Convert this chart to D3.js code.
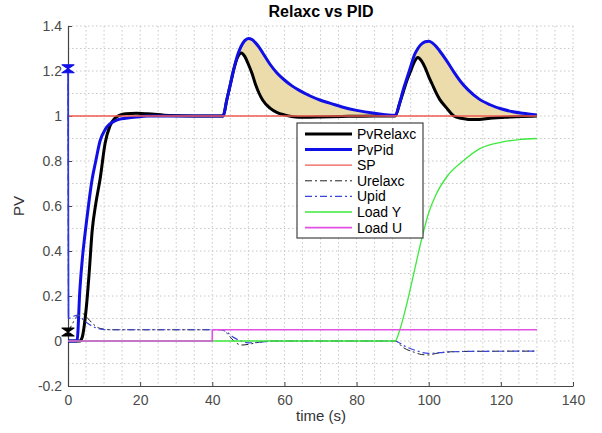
<!DOCTYPE html>
<html>
<head>
<meta charset="utf-8">
<script src="https://cdn.jsdelivr.net/npm/d3@7"></script>
<style>
  body { margin: 0; background: #fff; }
  text { font-family: "Liberation Sans", Arial, sans-serif; }
</style>
</head>
<body>
<div class="canvas"></div>
<script>
// process variable responses (shared time base so the gap can be shaded)
const pvTime   = [0, 2.5, 3.3, 4, 4.6, 5.2, 5.9, 6.7, 7.7, 8.9, 10.3, 11.6, 13, 14.4, 16, 19, 22, 28, 35, 43, 44, 45, 46, 47, 48, 49, 50, 51, 52, 53, 54, 56, 58, 60, 62, 64, 67, 70, 73, 76, 80, 85, 90.7, 92, 93, 94, 95, 96, 97, 98, 99, 100, 101, 102, 103, 105, 107, 109, 111, 114, 117, 120, 123, 126, 130];
const pvPid    = [0, 0, 0.23, 0.37, 0.46, 0.54, 0.63, 0.72, 0.80, 0.89, 0.94, 0.965, 0.978, 0.986, 0.99, 0.996, 1.0, 1.0, 1.0, 1.0, 1.07, 1.14, 1.21, 1.27, 1.31, 1.335, 1.345, 1.34, 1.325, 1.305, 1.28, 1.23, 1.19, 1.16, 1.135, 1.115, 1.09, 1.07, 1.055, 1.04, 1.025, 1.012, 1.003, 1.06, 1.12, 1.17, 1.22, 1.27, 1.30, 1.32, 1.33, 1.332, 1.325, 1.31, 1.29, 1.245, 1.195, 1.15, 1.115, 1.075, 1.05, 1.032, 1.02, 1.012, 1.005];
const pvRelaxc = [0, 0, 0, 0.02, 0.08, 0.17, 0.31, 0.49, 0.61, 0.72, 0.88, 0.955, 0.99, 1.004, 1.01, 1.012, 1.01, 1.002, 1.0, 1.0, 1.07, 1.14, 1.21, 1.26, 1.28, 1.265, 1.23, 1.19, 1.14, 1.10, 1.07, 1.035, 1.015, 1.005, 0.998, 0.995, 0.995, 0.996, 0.997, 0.998, 0.999, 1.0, 1.0, 1.06, 1.11, 1.16, 1.20, 1.24, 1.26, 1.245, 1.215, 1.175, 1.14, 1.105, 1.075, 1.035, 1.0, 0.99, 0.985, 0.985, 0.99, 0.993, 0.996, 0.998, 1.0];

// set point
const spTime = [0, 130];
const sp     = [1, 1];

// controller outputs
const uRelaxcTime = [0, 1, 2.4, 3.8, 5.5, 7, 8.9, 12, 42.5, 44, 46, 48, 50, 53, 57, 90.7, 93, 96, 98, 100, 102, 106, 112, 130];
const uRelaxc     = [0.04, 0.07, 0.108, 0.123, 0.10, 0.075, 0.056, 0.05, 0.05, 0.035, 0.0, -0.018, -0.015, -0.005, 0.0, 0.0, -0.03, -0.05, -0.06, -0.062, -0.055, -0.048, -0.046, -0.045];
const uPidTime    = [0, 0.15, 1.5, 2.9, 4.5, 7, 10.7, 42.5, 44, 46, 48, 50, 53, 57, 90.7, 93, 96, 100, 103, 108, 130];
const uPid        = [1.21, 0.10, 0.11, 0.115, 0.09, 0.064, 0.05, 0.05, 0.04, 0.015, 0.0, -0.008, -0.006, 0.0, 0.0, -0.02, -0.04, -0.055, -0.052, -0.047, -0.045];

// disturbances
const loadYTime = [0, 90.7, 92, 94, 96, 98, 100, 102, 105, 109.5, 114.2, 120.6, 125, 130];
const loadY     = [0, 0, 0.05, 0.17, 0.31, 0.45, 0.57, 0.65, 0.73, 0.80, 0.855, 0.885, 0.895, 0.90];
const loadUTime = [0, 40, 40, 130];
const loadU     = [0, 0, 0.05, 0.05];

// axes ticks
const xTicks = [0, 20, 40, 60, 80, 100, 120, 140];
const yTicks = [-0.2, 0, 0.2, 0.4, 0.6, 0.8, 1, 1.2, 1.4];
const yTickLabels = ['-0.2', '0', '0.2', '0.4', '0.6', '0.8', '1', '1.2', '1.4'];

const legendNames = ['PvRelaxc', 'PvPid', 'SP', 'Urelaxc', 'Upid', 'Load Y', 'Load U'];

var margin = {top: 26, right: 29, bottom: 47, left: 68},
  width = 602 - margin.left - margin.right,
  height = 433 - margin.top - margin.bottom;

var svg = d3.select('.canvas')
  .append('svg')
  .attr('width', 602)
  .attr('height', 433);

const graph = svg.append('g')
  .attr('transform', `translate(${margin.left},${margin.top})`);

const x = d3.scaleLinear().domain([0, 140]).range([0, width]);
const y = d3.scaleLinear().domain([-0.2, 1.4]).range([height, 0]);

// dotted grid, every 5 s and every 0.1
const grid = graph.append('g')
  .attr('stroke', '#c8c8c8')
  .attr('stroke-width', 1)
  .attr('stroke-dasharray', '1.5,2.5');

grid.selectAll('.gx')
  .data(d3.range(5, 141, 5))
  .enter().append('line')
    .attr('x1', d => x(d)).attr('x2', d => x(d))
    .attr('y1', 0).attr('y2', height);

grid.selectAll('.gy')
  .data(d3.range(-1, 15).map(d => d / 10))
  .enter().append('line')
    .attr('x1', 0).attr('x2', width)
    .attr('y1', d => y(d)).attr('y2', d => y(d));

// axes (drawn under the curves)
const xAxis = d3.axisBottom(x)
  .tickValues(xTicks)
  .tickSizeInner(-4)
  .tickSizeOuter(0)
  .tickPadding(9);

const yAxis = d3.axisLeft(y)
  .tickValues(yTicks)
  .tickFormat((d, i) => yTickLabels[i])
  .tickSizeInner(-4)
  .tickSizeOuter(0)
  .tickPadding(6);

const xAxisGroup = graph.append('g')
  .attr('transform', `translate(0,${height})`)
  .call(xAxis);

const yAxisGroup = graph.append('g')
  .call(yAxis);

[xAxisGroup, yAxisGroup].forEach(g => {
  g.select('.domain').attr('stroke', '#444').attr('stroke-width', 1.2);
  g.selectAll('line').attr('stroke', '#444');
  g.selectAll('text')
    .attr('fill', '#4a4a4a')
    .style('font-size', '14px');
});

const zip = (ts, vs) => ts.map((t, i) => ({t: t, v: vs[i]}));

const smooth = d3.line()
  .x(d => x(d.t))
  .y(d => y(d.v))
  .curve(d3.curveMonotoneX);

const straight = d3.line()
  .x(d => x(d.t))
  .y(d => y(d.v));

// shaded gap between PID and Relaxc after the load steps
const pvRows = pvTime.map((t, i) => ({t: t, a: pvRelaxc[i], b: pvPid[i]}));
const gap = d3.area()
  .defined(d => d.t >= 43)
  .x(d => x(d.t))
  .y0(d => y(d.a))
  .y1(d => y(d.b))
  .curve(d3.curveMonotoneX);

graph.append('path')
  .attr('d', gap(pvRows))
  .attr('fill', '#ecdcab');

// series styles, in the legend order
const styles = [
  {color: '#000000', w: 3, dash: null},
  {color: '#1010e6', w: 3, dash: null},
  {color: '#ee5a52', w: 1.3, dash: null},
  {color: '#222222', w: 1, dash: '7,3,2,3'},
  {color: '#3a46d8', w: 1.2, dash: '7,3,2,3'},
  {color: '#3ee83e', w: 1.3, dash: null},
  {color: '#e44fe4', w: 1.6, dash: null}
];

const series = [
  {pts: zip(pvTime, pvRelaxc), gen: smooth},
  {pts: zip(pvTime, pvPid), gen: smooth},
  {pts: zip(spTime, sp), gen: straight},
  {pts: zip(uRelaxcTime, uRelaxc), gen: smooth},
  {pts: zip(uPidTime, uPid), gen: smooth},
  {pts: zip(loadYTime, loadY), gen: smooth},
  {pts: zip(loadUTime, loadU), gen: straight}
];

series.forEach((s, i) => {
  graph.append('path')
    .attr('d', s.gen(s.pts))
    .attr('fill', 'none')
    .attr('stroke', styles[i].color)
    .attr('stroke-width', styles[i].w)
    .attr('stroke-dasharray', styles[i].dash)
    .attr('stroke-linejoin', 'round');
});

// initial kick of Upid drawn solid along the axis
graph.append('path')
  .attr('d', straight(zip(uPidTime, uPid).slice(0, 2)))
  .attr('stroke', '#2a36e0')
  .attr('stroke-width', 1.6)
  .attr('fill', 'none');

// hourglass markers at the start of the controller outputs
const hourglass = 'M-6,-4L6,-4L0,0ZM-6,4L6,4L0,0Z';
[[uPidTime[0], uPid[0], '#1010e6'], [uRelaxcTime[0], uRelaxc[0], '#000']].forEach(m => {
  graph.append('path')
    .attr('d', hourglass)
    .attr('transform', `translate(${x(m[0])},${y(m[1])})`)
    .attr('fill', m[2])
    .attr('stroke', m[2])
    .attr('stroke-width', 1.2)
    .attr('stroke-linejoin', 'round');
});

// labels
svg.append('text')
  .attr('x', 321).attr('y', 17)
  .attr('text-anchor', 'middle')
  .style('font-size', '16px')
  .style('font-weight', 'bold')
  .text('Relaxc vs PID');

svg.append('text')
  .attr('x', 321).attr('y', 421)
  .attr('text-anchor', 'middle')
  .attr('fill', '#333')
  .style('font-size', '15px')
  .text('time (s)');

svg.append('text')
  .attr('transform', 'translate(24,206) rotate(-90)')
  .attr('text-anchor', 'middle')
  .attr('fill', '#333')
  .style('font-size', '15px')
  .text('PV');

// legend
const legend = svg.append('g')
  .attr('transform', 'translate(297,123)');

legend.append('rect')
  .attr('width', 126).attr('height', 115)
  .attr('fill', '#fff')
  .attr('stroke', '#444')
  .attr('stroke-width', 1.2);

const rows = legend.selectAll('.row')
  .data(legendNames)
  .enter().append('g')
    .attr('transform', (d, i) => `translate(0,${11 + i * 15.6})`);

rows.append('line')
  .attr('x1', 8).attr('x2', 55)
  .attr('stroke', (d, i) => styles[i].color)
  .attr('stroke-width', (d, i) => Math.min(styles[i].w, 3))
  .attr('stroke-dasharray', (d, i) => styles[i].dash);

rows.append('text')
  .attr('x', 60).attr('dy', '0.35em')
  .style('font-size', '14px')
  .text(d => d);
</script>
</body>
</html>
